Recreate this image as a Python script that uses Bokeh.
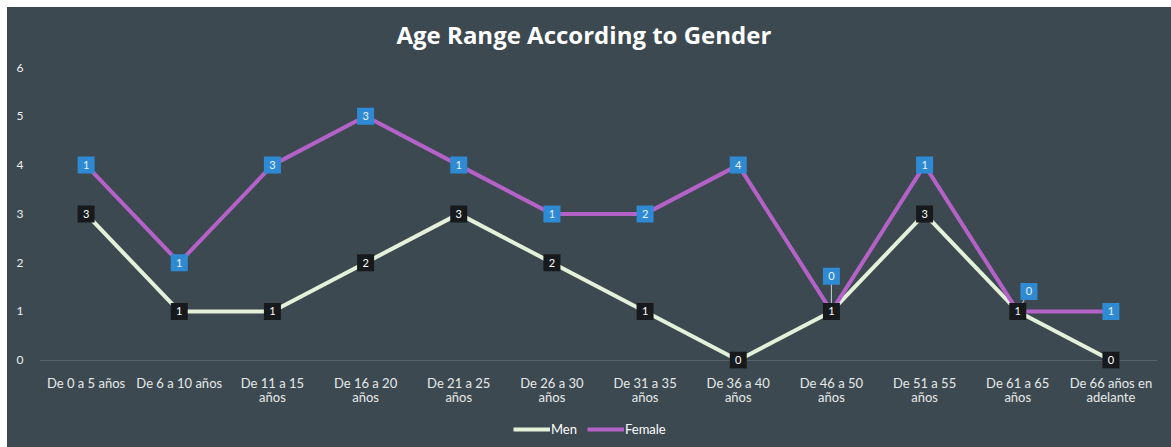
from bokeh.plotting import figure
from bokeh.layouts import column
from bokeh.models import FactorRange, Range1d, FixedTicker, Legend, LegendItem, ColumnDataSource
from bokeh.core.properties import value
from bokeh.embed import file_html
from bokeh.resources import INLINE

# ---- data ----
categories = ["De 0 a 5 años", "De 6 a 10 años", "De 11 a 15\naños", "De 16 a 20\naños",
              "De 21 a 25\naños", "De 26 a 30\naños", "De 31 a 35\naños", "De 36 a 40\naños",
              "De 46 a 50\naños", "De 51 a 55\naños", "De 61 a 65\naños", "De 66 años en\nadelante"]
men = [3, 1, 1, 2, 3, 2, 1, 0, 1, 3, 1, 0]
female = [1, 1, 3, 3, 1, 1, 2, 4, 0, 1, 0, 1]
y_ticks = [0, 1, 2, 3, 4, 5, 6]

# ---- label placement styles (nudges for overlapping data labels) ----
female_label_dy = [0, 0, 0, 0, 0, 0, 0, 0, 0.72, 0, 0.41, 0]
female_label_dx = [0, 0, 0, 0, 0, 0, 0, 0, 0, 0, 0.12, 0]

BG = "#3c4950"
FONT = "Lato"
MEN_C = "#e4f1da"
FEM_C = "#b462c8"

female_stacked = [m + f for m, f in zip(men, female)]

men_src = ColumnDataSource(dict(x=categories, y=men, t=[str(v) for v in men]))
fem_src = ColumnDataSource(dict(x=categories, y=female_stacked))
fem_lab = ColumnDataSource(dict(x=[[c, d] for c, d in zip(categories, female_label_dx)],
                                y=[s + d for s, d in zip(female_stacked, female_label_dy)],
                                t=[str(v) for v in female]))
lead_idx = [i for i, d in enumerate(female_label_dy) if d > 0]
lead_src = ColumnDataSource(dict(x0=[categories[i] for i in lead_idx],
                                 x1=[[categories[i], female_label_dx[i]] for i in lead_idx],
                                 y0=[female_stacked[i] for i in lead_idx],
                                 y1=[female_stacked[i] + female_label_dy[i] for i in lead_idx]))

p = figure(x_range=FactorRange(*categories), y_range=Range1d(-0.17, 6.35),
           width=1164, height=405, output_backend="svg", toolbar_location=None,
           min_border_left=32, min_border_right=14, min_border_top=43, min_border_bottom=44,
           background_fill_color=BG, border_fill_color=BG, outline_line_color=None)
p.margin = (7, 0, 0, 7)
p.styles = {"background-color": BG}

p.title.text = "Age Range According to Gender"
p.title.align = "left"
p.title.offset = 357
p.title.text_color = "white"
p.title.text_font = "Open Sans"
p.title.text_font_style = "bold"
p.title.text_font_size = "24px"
p.title.standoff = 0

p.xgrid.grid_line_color = None
p.ygrid.ticker = FixedTicker(ticks=[0])
p.ygrid.grid_line_color = "#56636a"
p.ygrid.grid_line_width = 1

p.yaxis.ticker = FixedTicker(ticks=y_ticks)
p.yaxis.axis_line_color = None
p.yaxis.major_tick_line_color = None
p.yaxis.minor_tick_line_color = None
p.yaxis.major_label_standoff = 10
p.yaxis.major_label_text_color = "#eef0f1"
p.yaxis.major_label_text_font = FONT
p.yaxis.major_label_text_font_size = "12px"

p.xaxis.axis_line_color = None
p.xaxis.major_tick_line_color = None
p.xaxis.minor_tick_line_color = None
p.xaxis.major_label_standoff = 0
p.xaxis.major_label_text_color = "#e6e9ea"
p.xaxis.major_label_text_font = FONT
p.xaxis.major_label_text_font_size = "13px"
p.xaxis.major_label_text_line_height = 0.9

p.line("x", "y", source=men_src, line_color=MEN_C, line_width=4)
p.line("x", "y", source=fem_src, line_color=FEM_C, line_width=4)

p.segment(x0="x0", y0="y0", x1="x1", y1="y1", source=lead_src, line_color="#c8d0d6", line_width=1)

p.scatter(x="x", y="y", source=men_src, marker="square", size=17,
          fill_color="#161a1c", line_color=None)
p.text(x="x", y="y", text="t", source=men_src, text_color="white",
       text_font=value(FONT), text_font_size="11px", text_align="center", text_baseline="middle")
p.scatter(x="x", y="y", source=fem_lab, marker="square", size=17,
          fill_color="#2f8ad4", line_color=None)
p.text(x="x", y="y", text="t", source=fem_lab, text_color="#e8f2fb",
       text_font=value(FONT), text_font_size="11px", text_align="center", text_baseline="middle")

# legend strip below the chart (same series, drawn outside its visible range: only the key shows)
p2 = figure(width=1164, height=35, x_range=p.x_range, y_range=Range1d(10, 11),
            x_axis_type=None, y_axis_type=None, output_backend="svg", toolbar_location=None,
            min_border=0, background_fill_color=BG, border_fill_color=BG, outline_line_color=None)
p2.margin = (0, 0, 0, 7)
p2.styles = {"background-color": BG}
p2.grid.visible = False
lm = p2.line("x", "y", source=men_src, line_color=MEN_C, line_width=4)
lf = p2.line("x", "y", source=fem_src, line_color=FEM_C, line_width=4)
legend = Legend(items=[LegendItem(label="Men", renderers=[lm]),
                       LegendItem(label="Female", renderers=[lf])],
                orientation="horizontal", location=(472, 8),
                glyph_width=37, glyph_height=14, label_standoff=1, spacing=10,
                label_text_color="white", label_text_font=FONT, label_text_font_size="13px",
                background_fill_alpha=0, border_line_alpha=0, margin=0, padding=2)
p2.add_layout(legend)

layout = column(p, p2, spacing=0)
open("out.html", "w").write(file_html(layout, INLINE))
